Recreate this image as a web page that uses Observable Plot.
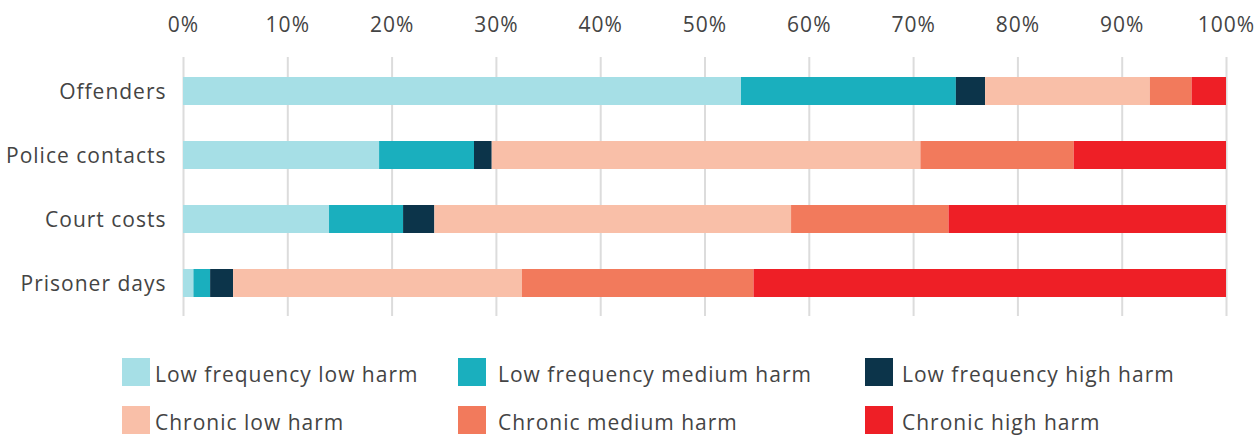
<!DOCTYPE html>
<html>
<head>
<meta charset="utf-8">
<script src="https://cdn.jsdelivr.net/npm/d3@7"></script>
<script src="https://cdn.jsdelivr.net/npm/@observablehq/plot@0.6"></script>
<style>
  html, body { margin: 0; padding: 0; background: #fff; }
  body { width: 1256px; height: 435px; overflow: hidden; font-family: "Open Sans", sans-serif; color: #444; }
  #chart svg text { letter-spacing: 1px; }
  #legend { position: relative; height: 100px; font-size: 21px; letter-spacing: 1px; }
  .item { position: absolute; display: flex; align-items: center; }
  .sw { width: 28px; height: 28px; }
  .item span { position: relative; top: 2px; }
</style>
</head>
<body>
<div id="chart"></div>
<div id="legend"></div>
<script>
const categories = ["Offenders", "Police contacts", "Court costs", "Prisoner days"];
const groups = ["Low frequency low harm", "Low frequency medium harm", "Low frequency high harm",
                "Chronic low harm", "Chronic medium harm", "Chronic high harm"];
const colors = ["#a6dfe6", "#1aafbe", "#0c344a", "#f9bfa8", "#f27a5c", "#ee1f26"];
// percentage shares per category, in group order
const offenders      = [53.5, 20.6, 2.8, 15.8, 4.0, 3.3];
const policeContacts = [18.8, 9.1, 1.7, 41.1, 14.7, 14.6];
const courtCosts     = [14.0, 7.1, 3.0, 34.2, 15.1, 26.6];
const prisonerDays   = [1.0, 1.6, 2.2, 27.7, 22.2, 45.3];
const xTicks = [0, 10, 20, 30, 40, 50, 60, 70, 80, 90, 100];

const series = [offenders, policeContacts, courtCosts, prisonerDays];
const rows = [];
categories.forEach((c, i) => series[i].forEach((v, j) => rows.push({category: c, group: groups[j], value: v})));

const chart = Plot.plot({
  width: 1256,
  height: 335,
  marginLeft: 183,
  marginRight: 30,
  marginTop: 57,
  marginBottom: 19,
  style: {fontFamily: "'Open Sans', sans-serif", fontSize: "21px", color: "#444"},
  x: {domain: [0, 100], ticks: xTicks, tickFormat: d => d + "%", label: null},
  y: {domain: categories, paddingInner: 0.565, paddingOuter: 0.29, label: null},
  color: {domain: groups, range: colors},
  marks: [
    Plot.gridX(xTicks, {stroke: "#dcdcdc", strokeWidth: 2, strokeOpacity: 1}),
    Plot.barX(rows, Plot.stackX({y: "category", x: "value", fill: "group", order: groups})),
    Plot.axisX(xTicks, {anchor: "top", tickSize: 0, tickPadding: 26, tickFormat: d => d + "%", fill: "#444", label: null}),
    Plot.axisY({tickSize: 0, tickPadding: 17, fill: "#444", label: null, dy: 1})
  ]
});
document.getElementById("chart").appendChild(chart);

const legend = document.getElementById("legend");
const lefts = [122, 458, 865];
const gaps = [5, 12, 9];
const tops = [23, 71];
groups.forEach((g, i) => {
  const item = document.createElement("div");
  item.className = "item";
  item.style.left = lefts[i % 3] + "px";
  item.style.top = tops[Math.floor(i / 3)] + "px";
  const sw = document.createElement("div");
  sw.className = "sw";
  sw.style.background = colors[i];
  sw.style.marginRight = gaps[i % 3] + "px";
  const t = document.createElement("span");
  t.textContent = g;
  item.appendChild(sw);
  item.appendChild(t);
  legend.appendChild(item);
});
</script>
</body>
</html>
